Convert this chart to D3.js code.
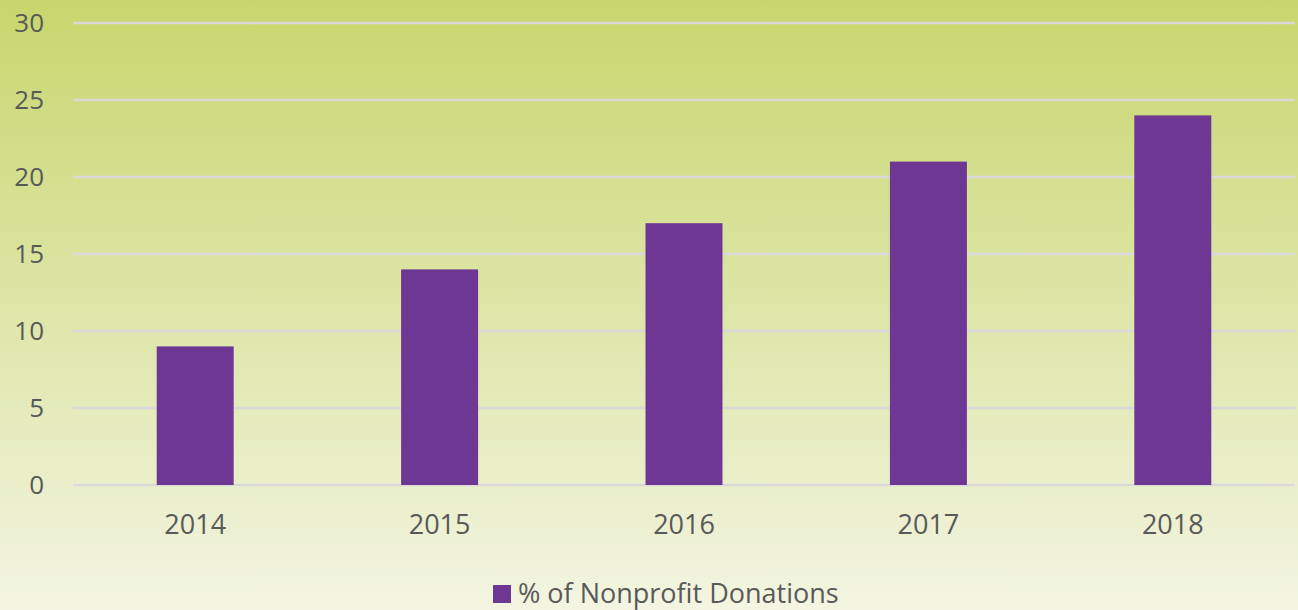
<!DOCTYPE html>
<html>
<head>
<meta charset="utf-8">
<script src="https://cdn.jsdelivr.net/npm/d3@7"></script>
<style>
  body { margin: 0; }
  svg { display: block; }
</style>
</head>
<body>
<div id="chart"></div>
<script>
const years = ["2014", "2015", "2016", "2017", "2018"];
const donations = [9, 14, 17, 21, 24];
const yTicks = [0, 5, 10, 15, 20, 25, 30];
const seriesName = "% of Nonprofit Donations";

const W = 1298, H = 610;
const plot = { left: 73, right: 1295, top: 23, bottom: 485 };
const font = "Open Sans, sans-serif";

const svg = d3.select("#chart").append("svg")
    .attr("width", W).attr("height", H);

// background gradient
const grad = svg.append("defs").append("linearGradient")
    .attr("id", "bg").attr("x1", 0).attr("y1", 0).attr("x2", 0).attr("y2", 1);
grad.append("stop").attr("offset", "0%").attr("stop-color", "#c7d66c");
grad.append("stop").attr("offset", "100%").attr("stop-color", "#f3f5e2");
svg.append("rect").attr("width", W).attr("height", H).attr("fill", "url(#bg)");

const x = d3.scaleBand()
    .domain(years)
    .range([plot.left, plot.right])
    .paddingInner(0.685).paddingOuter(0.3425);

const y = d3.scaleLinear()
    .domain([0, 30])
    .range([plot.bottom, plot.top]);

// gridlines
svg.append("g").selectAll("line").data(yTicks).enter().append("line")
    .attr("x1", plot.left).attr("x2", plot.right)
    .attr("y1", d => y(d)).attr("y2", d => y(d))
    .attr("stroke", "#d9d9d9").attr("stroke-width", 2.5);

// y axis labels
const yAxis = svg.append("g")
    .attr("transform", "translate(" + (plot.left - 29) + ",0)")
    .call(d3.axisLeft(y).tickValues(yTicks).tickSize(0).tickPadding(0));
yAxis.select(".domain").remove();
yAxis.selectAll("text")
    .style("font-family", font).style("font-size", "26px")
    .attr("fill", "#595959");

// bars
svg.append("g").selectAll("rect").data(donations).enter().append("rect")
    .attr("x", (d, i) => x(years[i]))
    .attr("width", x.bandwidth())
    .attr("y", d => y(d))
    .attr("height", d => y(0) - y(d))
    .attr("fill", "#6e3793");

// x axis labels
const xAxis = svg.append("g")
    .attr("transform", "translate(0," + (plot.bottom + 30) + ")")
    .call(d3.axisBottom(x).tickSize(0).tickPadding(0));
xAxis.select(".domain").remove();
xAxis.selectAll("text")
    .attr("dy", "0.71em")
    .style("font-family", font).style("font-size", "27px")
    .attr("fill", "#595959");

// legend
const legend = svg.append("g");
legend.append("rect")
    .attr("x", 493).attr("y", 585).attr("width", 18).attr("height", 18)
    .attr("fill", "#6e3793");
legend.append("text")
    .attr("x", 518).attr("y", 603)
    .style("font-family", font).style("font-size", "27px")
    .attr("fill", "#595959")
    .text(seriesName);
</script>
</body>
</html>
